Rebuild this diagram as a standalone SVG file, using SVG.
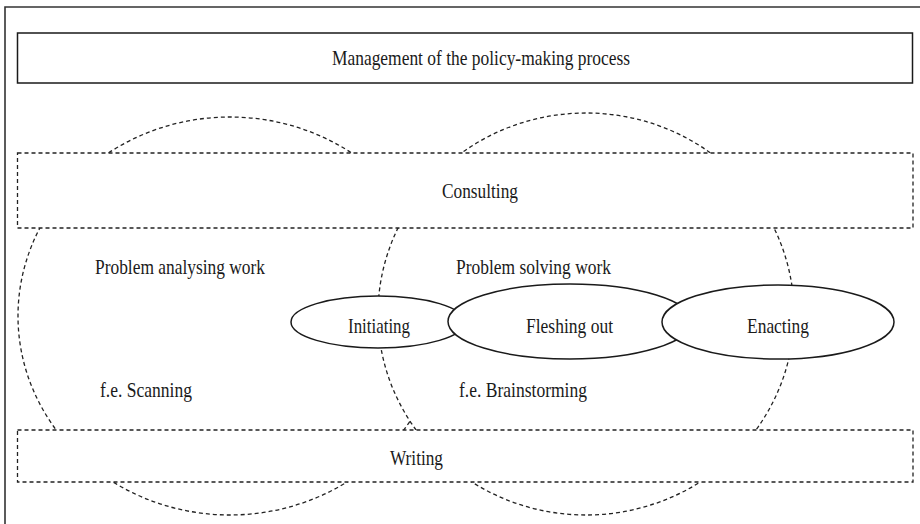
<svg xmlns="http://www.w3.org/2000/svg" width="920" height="524" viewBox="0 0 920 524">
<style>
text{font-family:"Liberation Serif","Times New Roman",serif;font-size:21px;fill:#1a1a1a}
.big{fill:#fff;stroke:#222;stroke-width:1.3;stroke-dasharray:4 3}
.box{fill:#fff;stroke:#222;stroke-width:1.3;stroke-dasharray:4 3}
.solid{fill:#fff;stroke:#1a1a1a;stroke-width:1.5}
</style>
<rect width="920" height="524" fill="#fff"/>
<path d="M5,524 V7 H920" fill="none" stroke="#333" stroke-width="1.6"/>
<g id="problem-analysing">
<ellipse class="big" cx="230" cy="316" rx="212" ry="199"/>
</g>
<g id="problem-solving">
<ellipse class="big" cx="586" cy="314" rx="208" ry="201"/>
</g>
<g id="consulting">
<rect class="box" x="17.5" y="153" width="895.5" height="75"/>
<text x="442" y="198" textLength="76" lengthAdjust="spacingAndGlyphs">Consulting</text>
</g>
<g id="writing">
<rect class="box" x="17.5" y="430" width="895.5" height="52"/>
<text x="390" y="465" textLength="53" lengthAdjust="spacingAndGlyphs">Writing</text>
</g>
<g id="management">
<rect class="solid" x="17.5" y="33" width="895" height="50" stroke-width="1.3"/>
<text x="332" y="65" textLength="298" lengthAdjust="spacingAndGlyphs">Management of the policy-making process</text>
</g>
<g id="labels">
<text x="95" y="274" textLength="170" lengthAdjust="spacingAndGlyphs">Problem analysing work</text>
<text x="456" y="274" textLength="155" lengthAdjust="spacingAndGlyphs">Problem solving work</text>
<text x="100" y="397" textLength="92" lengthAdjust="spacingAndGlyphs">f.e. Scanning</text>
<text x="459" y="397" textLength="128" lengthAdjust="spacingAndGlyphs">f.e. Brainstorming</text>
</g>
<g id="initiating">
<ellipse class="solid" cx="378" cy="322" rx="87" ry="26"/>
<text x="348" y="333" textLength="62" lengthAdjust="spacingAndGlyphs">Initiating</text>
</g>
<g id="fleshing-out">
<ellipse class="solid" cx="570" cy="321.5" rx="122" ry="37.5"/>
<text x="526" y="333" textLength="87" lengthAdjust="spacingAndGlyphs">Fleshing out</text>
</g>
<g id="enacting">
<ellipse class="solid" cx="778" cy="322" rx="116" ry="37"/>
<text x="747" y="333" textLength="62" lengthAdjust="spacingAndGlyphs">Enacting</text>
</g>
<g id="connectors"/>
</svg>
